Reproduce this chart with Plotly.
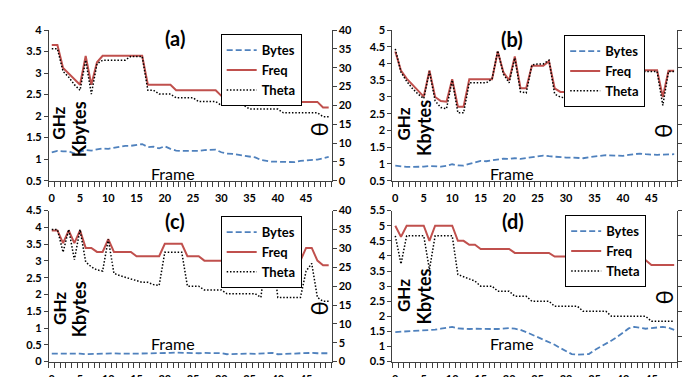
import plotly.graph_objects as go

frames = list(range(50))
tick_frames = [0, 5, 10, 15, 20, 25, 30, 35, 40, 45]

a_bytes = [1.16,1.19,1.18,1.18,1.13,1.17,1.21,1.20,1.22,1.25,1.24,1.26,1.29,1.31,1.31,1.33,1.35,1.28,1.29,1.25,
           1.30,1.24,1.20,1.19,1.19,1.18,1.19,1.21,1.22,1.22,1.16,1.13,1.12,1.10,1.08,1.07,1.04,0.98,0.96,0.94,
           0.94,0.94,0.93,0.93,0.96,0.97,0.97,0.99,1.02,1.05]
a_freq = [3.65,3.65,3.12,2.99,2.86,2.73,3.40,2.73,3.25] + [3.40]*8 + [2.73]*5 + [2.60]*8 + [2.47]*5 + [2.33]*13 + [2.20]*2
a_theta = [35,35,29,27.5,25.5,24,32,23,31] + [32]*5 + [33]*3 + [24]*2 + [23]*3 + [22]*4 + [21]*4 + [20]*5 + [19]*6 + [18]*7 + [17]*2

b_bytes = [0.95,0.92,0.91,0.91,0.91,0.92,0.94,0.93,0.92,0.94,0.99,0.955,0.95,1.00,1.05,1.09,1.08,1.11,1.14,1.16,
           1.15,1.17,1.15,1.18,1.20,1.24,1.25,1.23,1.21,1.19,1.19,1.19,1.18,1.17,1.20,1.23,1.24,1.26,1.25,1.24,
           1.24,1.27,1.29,1.31,1.29,1.27,1.27,1.28,1.28,1.29]
b_freq = [4.36,3.79,3.55,3.36,3.17,3.01,3.79,3.00,2.88,2.86,3.53,2.71,2.71] + [3.53]*5 + \
         [4.36,3.74,3.50,4.21,3.26,3.26] + [3.93]*3 + [4.07,3.26,3.15,3.15] + [3.00]*5 + [3.80]*11 + [3.00,3.78,3.78]
b_theta = [35,28.8,26.4,24.5,23,21.8,29,21.2,19.4,19.1,26.7,18,18,26,26,26,26,27,34.5,28.3,26,32.6,23.6,23.3,
           30.7,31,31,32,23,22.2,21.9,21.3,21,20.5,20,20] + [29]*11 + [20,29,29]

c_bytes = [0.24,0.24,0.23,0.25,0.23,0.24,0.22,0.23,0.24,0.23,0.25,0.25,0.24,0.25,0.24,0.24,0.24,0.25,0.24,0.24,
           0.26,0.26,0.27,0.26,0.25,0.24,0.25,0.26,0.26,0.24,0.25,0.22,0.23,0.23,0.24,0.24,0.23,0.24,0.27,0.26,
           0.22,0.22,0.24,0.24,0.25,0.26,0.26,0.25,0.25,0.25]
c_freq = [3.91,3.91,3.53,3.91,3.53,3.91,3.39,3.39,3.27,3.27,3.65] + [3.27]*4 + [3.14]*5 + [3.51]*4 + [3.14]*3 + \
         [3.01]*11 + [3.39]*2 + [3.01]*5 + [3.39,3.39,3.01,2.87,2.87]
c_theta = [35,35,29,35,27,35,26.4,25.1,24.3,24,32.4,23.4,22.8,22.3,22,21.3,21,21,20.4,20.2] + [29]*4 + [20]*3 + \
          [19]*4 + [18]*6 + [17] + [29]*2 + [17]*5 + [24,26,17,16,16]

d_bytes = [1.48,1.49,1.52,1.53,1.54,1.55,1.55,1.56,1.59,1.63,1.65,1.60,1.58,1.58,1.59,1.58,1.58,1.58,1.58,1.59,
           1.61,1.59,1.55,1.48,1.40,1.32,1.24,1.16,1.06,0.95,0.84,0.75,0.73,0.73,0.75,0.88,0.98,1.08,1.20,1.32,
           1.45,1.60,1.65,1.63,1.59,1.61,1.64,1.65,1.62,1.55]
d_freq = [5.0,4.63] + [5.0]*4 + [4.5] + [5.0]*4 + [4.5]*2 + [4.37]*2 + [4.23]*6 + [4.10]*7 + [3.98]*10 + [3.86]*7 + [3.70]*5
d_theta = [25,19.4] + [25]*4 + [18.3] + [25]*4 + [17.3,16.9,16.5,16] + [15]*3 + [14]*3 + [13]*3 + [12]*4 + [11]*5 + \
          [10]*5 + [9]*7 + [8]*5

panel_labels = ["(a)", "(b)", "(c)", "(d)"]
series_names = ["Bytes", "Freq", "Theta"]
left_ranges = [[0.5, 4], [0.5, 5], [0, 4.5], [0.5, 5.5]]
right_ranges = [[0, 40], [0, 40], [0, 40], [0, 30]]
data = [(a_bytes, a_freq, a_theta), (b_bytes, b_freq, b_theta),
        (c_bytes, c_freq, c_theta), (d_bytes, d_freq, d_theta)]

W, H = 690, 377
def px(x): return x / W
def py(y): return 1 - y / H

x_domains = [[px(41), px(324)], [px(385), px(670)], [px(41), px(324)], [px(385), px(670)]]
y_domains = [[py(173), py(15.7)], [py(173), py(15.7)], [py(362), py(204.3)], [py(362), py(204.3)]]
legend_pos = [(213, 20), (557, 21), (213, 210), (558, 209)]
label_pos = [(167.5, 24.5), (505, 25), (167, 215.5), (506, 215)]
ghz_pos = [(51, 112.5), (396, 114), (51, 306), (396, 293)]
kb_pos = [(71.5, 119), (416.5, 118), (71.5, 307), (416.5, 294)]
theta_pos = [(311, 120), (656, 121), (311, 307), (656, 295)]
frame_pos = [(165, 166), (504.5, 166), (165, 343), (504.5, 343.5)]

BLUE = "#4F81BD"
RED = "#C0504D"
FONT = "Lato"
AX = "#404040"

fig = go.Figure()
layout = dict(width=W, height=H, margin=dict(l=0, r=0, t=0, b=0),
              paper_bgcolor="white", plot_bgcolor="white", showlegend=True,
              hovermode=False)
annotations = []

for i in range(4):
    xa = "x" if i == 0 else f"x{i+1}"
    yl = f"y{2*i+1}" if i > 0 else "y"
    yr = f"y{2*i+2}"
    leg = "legend" if i == 0 else f"legend{i+1}"
    b, f, t = data[i]
    fig.add_trace(go.Scatter(x=frames, y=b, name="Bytes", mode="lines", xaxis=xa, yaxis=yl, legend=leg,
                             line=dict(color=BLUE, width=1.8, dash="6px,3px")))
    fig.add_trace(go.Scatter(x=frames, y=f, name="Freq", mode="lines", xaxis=xa, yaxis=yl, legend=leg,
                             line=dict(color=RED, width=2)))
    fig.add_trace(go.Scatter(x=frames, y=t, name="Theta", mode="lines", xaxis=xa, yaxis=yr, legend=leg,
                             line=dict(color="black", width=1.5, dash="1.5px,1.8px")))

    xkey = "xaxis" if i == 0 else f"xaxis{i+1}"
    ylkey = "yaxis" if i == 0 else f"yaxis{2*i+1}"
    yrkey = f"yaxis{2*i+2}"
    ylanchor = "y" if i == 0 else f"y{2*i+1}"
    layout[xkey] = dict(domain=x_domains[i], anchor=ylanchor, range=[-0.5, 49.5],
                        tickmode="array", tickvals=tick_frames, ticks="outside", ticklen=7,
                        tickcolor="rgba(0,0,0,0)",
                        tickfont=dict(family=FONT, size=11, color="black", weight="bold"),
                        showline=True, linecolor=AX, linewidth=1, showgrid=False, zeroline=False,
                        minor=dict(tickmode="linear", tick0=-0.5, dtick=1, ticks="outside",
                                   ticklen=5, tickcolor=AX, showgrid=False))
    layout[ylkey] = dict(domain=y_domains[i], anchor=xa, range=left_ranges[i], dtick=0.5,
                         ticks="outside", ticklen=4, tickcolor=AX,
                         tickfont=dict(family=FONT, size=11, color="black", weight="bold"),
                         showline=True, linecolor=AX, linewidth=1, showgrid=False, zeroline=False)
    layout[yrkey] = dict(overlaying=ylanchor, side="right", anchor=xa, range=right_ranges[i], dtick=5,
                         ticks="outside", ticklen=4, tickcolor=AX,
                         tickfont=dict(family=FONT, size=11, color="black", weight="bold"),
                         showline=True, linecolor=AX, linewidth=1, showgrid=False, zeroline=False)
    lx, ly = legend_pos[i]
    layout[leg] = dict(x=px(lx), y=py(ly), xanchor="left", yanchor="top",
                       bgcolor="white", bordercolor="black", borderwidth=1,
                       font=dict(family=FONT, size=13, color="black", weight="bold"),
                       tracegroupgap=0, itemwidth=30)

    annotations.append(dict(x=px(label_pos[i][0]), y=py(label_pos[i][1]), xref="paper", yref="paper",
                            text=panel_labels[i], showarrow=False, xanchor="center", yanchor="middle",
                            font=dict(family=FONT, size=20, color="black", weight="bold")))
    annotations.append(dict(x=px(ghz_pos[i][0]), y=py(ghz_pos[i][1]), xref="paper", yref="paper",
                            text="GHz", showarrow=False, textangle=-90, xanchor="center", yanchor="middle",
                            font=dict(family=FONT, size=17, color="black", weight="bold")))
    annotations.append(dict(x=px(kb_pos[i][0]), y=py(kb_pos[i][1]), xref="paper", yref="paper",
                            text="Kbytes", showarrow=False, textangle=-90, xanchor="center", yanchor="middle",
                            font=dict(family=FONT, size=18, color="black", weight="bold")))
    annotations.append(dict(x=px(theta_pos[i][0]), y=py(theta_pos[i][1]), xref="paper", yref="paper",
                            text="θ", showarrow=False, textangle=-90, xanchor="center", yanchor="middle",
                            font=dict(family=FONT, size=24, color="black")))
    annotations.append(dict(x=px(frame_pos[i][0]), y=py(frame_pos[i][1]), xref="paper", yref="paper",
                            text="Frame", showarrow=False, xanchor="center", yanchor="middle",
                            font=dict(family=FONT, size=16, color="black")))

layout["annotations"] = annotations
fig.update_layout(**layout)
fig.write_html("out.html")
